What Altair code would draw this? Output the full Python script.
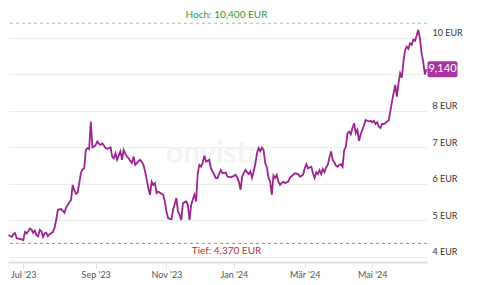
import json
import altair as alt
import pandas as pd

# Daily closing prices (EUR), one per trading session; session 0 = first session of July 2023
first_session = -9
closes = [
    4.60, 4.57, 4.55, 4.62, 4.65, 4.51, 4.50, 4.49, 4.48,
    4.46, 4.68, 4.64, 4.70, 4.78, 4.75, 4.66, 4.72, 4.60, 4.56,
    4.74, 4.70, 4.55, 4.65, 4.66, 4.57, 4.62, 4.65, 4.68, 4.80,
    5.01, 5.29, 5.30, 5.31, 5.26, 5.21, 5.35, 5.42, 5.50, 5.56,
    5.97, 5.82, 5.73, 5.76, 6.02, 6.30, 6.40, 6.43, 6.93, 6.98,
    6.95, 7.71, 7.00, 7.02, 7.07, 7.16, 7.10, 7.07, 7.11, 7.05,
    6.98, 6.96, 6.98, 7.00, 6.75, 6.70, 6.84, 6.66, 6.78, 6.89,
    6.66, 6.93, 6.82, 6.75, 6.70, 6.63, 6.57, 6.75, 6.52, 6.57,
    6.62, 6.66, 6.60, 6.52, 6.34, 6.11, 5.88, 5.70, 6.06, 5.97,
    6.02, 5.75, 5.79, 5.76, 5.73, 5.70, 5.52, 5.24, 5.06, 5.04,
    5.03, 5.29, 5.45, 5.61, 5.24, 5.15, 5.01, 5.47, 5.50, 5.52,
    5.42, 5.01, 5.42, 5.58, 5.70, 5.52, 6.29, 6.52, 6.47, 6.57,
    6.77, 6.61, 6.63, 6.66, 6.43, 6.34, 6.25, 6.16, 6.16, 6.27,
    6.38, 6.29, 6.30, 6.31, 6.20, 6.19, 6.18, 6.20, 6.22, 6.25,
    6.17, 6.06, 5.84, 6.20, 6.30, 6.38, 6.32, 6.27, 6.34, 6.17,
    6.34, 6.55, 6.84, 6.98, 6.90, 6.99, 6.93, 6.57, 6.45, 6.17,
    6.06, 5.70, 6.23, 6.16, 6.25, 6.06, 5.97, 6.02, 6.06, 6.02,
    6.04, 6.06, 6.17, 6.21, 6.25, 6.29, 6.28, 6.27, 6.20, 6.22,
    6.25, 6.43, 6.54, 6.43, 6.45, 6.47, 6.29, 6.16, 6.32, 6.27,
    6.38, 6.27, 6.41, 6.32, 6.45, 6.52, 6.72, 6.89, 6.66, 6.59,
    6.50, 6.47, 6.52, 6.54, 6.47, 6.93, 7.02, 7.39, 7.43, 7.36,
    7.53, 7.66, 7.39, 7.48, 7.18, 7.36, 7.48, 7.60, 7.75, 7.73,
    7.71, 7.73, 7.69, 7.73, 7.64, 7.69, 7.57, 7.53, 7.64, 7.64,
    7.66, 7.71, 7.73, 7.98, 8.25, 8.48, 8.71, 8.39, 8.76, 9.03,
    8.91, 9.35, 9.67, 9.76, 9.70, 9.85, 9.81, 9.95, 9.92, 10.06,
    10.22, 9.99, 9.58, 9.35, 9.00, 9.14,
]

tick_sessions = [0, 44, 87, 128, 171, 212]
tick_labels = ["Jul '23", "Sep '23", "Nov '23", "Jan '24", "Mär '24", "Mai '24"]
y_ticks = [4, 5, 6, 7, 8, 9, 10]
y_hidden_label = 9  # covered by the last-price badge in the original

high_value = 10.40
low_value = 4.37
high_label = "Hoch: 10,400 EUR"
low_label = "Tief: 4,370 EUR"
last_label = "9,140"
watermark = "onvista"

x_domain = [-9.3, 245.3]
y_domain = [3.86, 10.9]

FONT = "Lato"
LINE_COLOR = "#9c2391"
BADGE_COLOR = "#a8339f"

df = pd.DataFrame({
    "session": range(first_session, first_session + len(closes)),
    "close": closes,
})
last_df = df.tail(1).assign(label=last_label)

mid_x = (x_domain[0] + x_domain[1]) / 2
hl_df = pd.DataFrame({
    "session": [mid_x, mid_x],
    "value": [high_value, low_value],
    "label": [high_label, low_label],
    "kind": ["high", "low"],
})
wm_df = pd.DataFrame({"session": [mid_x], "value": [6.82], "label": [watermark]})

label_expr = " : ".join(
    f"datum.value == {v} ? {json.dumps(l, ensure_ascii=False)}"
    for v, l in zip(tick_sessions, tick_labels)
) + " : ''"

x_scale = alt.Scale(domain=x_domain, nice=False, zero=False)
y_scale = alt.Scale(domain=y_domain, nice=False, zero=False)

x_axis = alt.Axis(
    values=tick_sessions, labelExpr=label_expr, grid=False, title=None,
    domainColor="#dedede", domainWidth=2, tickColor="#dedede", tickSize=6,
    labelColor="#555555", labelFontSize=9, labelPadding=2, labelFont=FONT,
)
y_axis = alt.Axis(
    orient="right", values=y_ticks,
    labelExpr=f"datum.value == {y_hidden_label} ? '' : datum.value + ' EUR'",
    grid=True, gridColor="#ececec", domain=False, ticks=False, title=None,
    labelPadding=5, labelBaseline="bottom", labelFontSize=9,
    labelColor="#333333", labelFont=FONT,
)

wm = alt.Chart(wm_df).mark_text(
    fontSize=30, fontWeight="bold", color="#f3f3f3", font=FONT, dx=-3
).encode(
    x=alt.X("session:Q", scale=x_scale, axis=x_axis),
    y=alt.Y("value:Q", scale=y_scale, axis=y_axis),
    text="label:N",
)

high_rule = alt.Chart(hl_df[hl_df.kind == "high"]).mark_rule(
    color="#8fd08f", strokeDash=[3, 3], strokeWidth=1
).encode(y=alt.Y("value:Q", scale=y_scale))
low_rule = alt.Chart(hl_df[hl_df.kind == "low"]).mark_rule(
    color="#d9736b", strokeDash=[3, 3], strokeWidth=1
).encode(y=alt.Y("value:Q", scale=y_scale))

high_text = alt.Chart(hl_df[hl_df.kind == "high"]).mark_text(
    color="#2f9a3a", fontSize=10, font=FONT, baseline="bottom", dy=-3, dx=9
).encode(x=alt.X("session:Q", scale=x_scale), y=alt.Y("value:Q", scale=y_scale), text="label:N")
low_text = alt.Chart(hl_df[hl_df.kind == "low"]).mark_text(
    color="#b8332b", fontSize=10, font=FONT, baseline="top", dy=3, dx=9
).encode(x=alt.X("session:Q", scale=x_scale), y=alt.Y("value:Q", scale=y_scale), text="label:N")

line = alt.Chart(df).mark_line(color=LINE_COLOR, strokeWidth=1.8).encode(
    x=alt.X("session:Q", scale=x_scale),
    y=alt.Y("close:Q", scale=y_scale),
)

badge = alt.Chart(last_df).mark_rect(
    color=BADGE_COLOR, cornerRadius=2, xOffset=1, x2Offset=31, yOffset=-8, y2Offset=8
).encode(
    x=alt.X("session:Q", scale=x_scale), x2="session:Q",
    y=alt.Y("close:Q", scale=y_scale), y2="close:Q",
)
badge_text = alt.Chart(last_df).mark_text(
    color="white", fontSize=11, font=FONT, align="center", baseline="middle", dx=16
).encode(
    x=alt.X("session:Q", scale=x_scale),
    y=alt.Y("close:Q", scale=y_scale),
    text="label:N",
)

chart = alt.layer(
    wm, high_rule, low_rule, high_text, low_text, line, badge, badge_text
).properties(
    width=419, height=257,
    autosize=alt.AutoSizeParams(type="none"),
    padding={"left": 8, "top": 5, "right": 54, "bottom": 23},
    background="white",
).configure_view(stroke=None)

chart.save("out.html", embed_options={"renderer": "svg", "actions": False})
